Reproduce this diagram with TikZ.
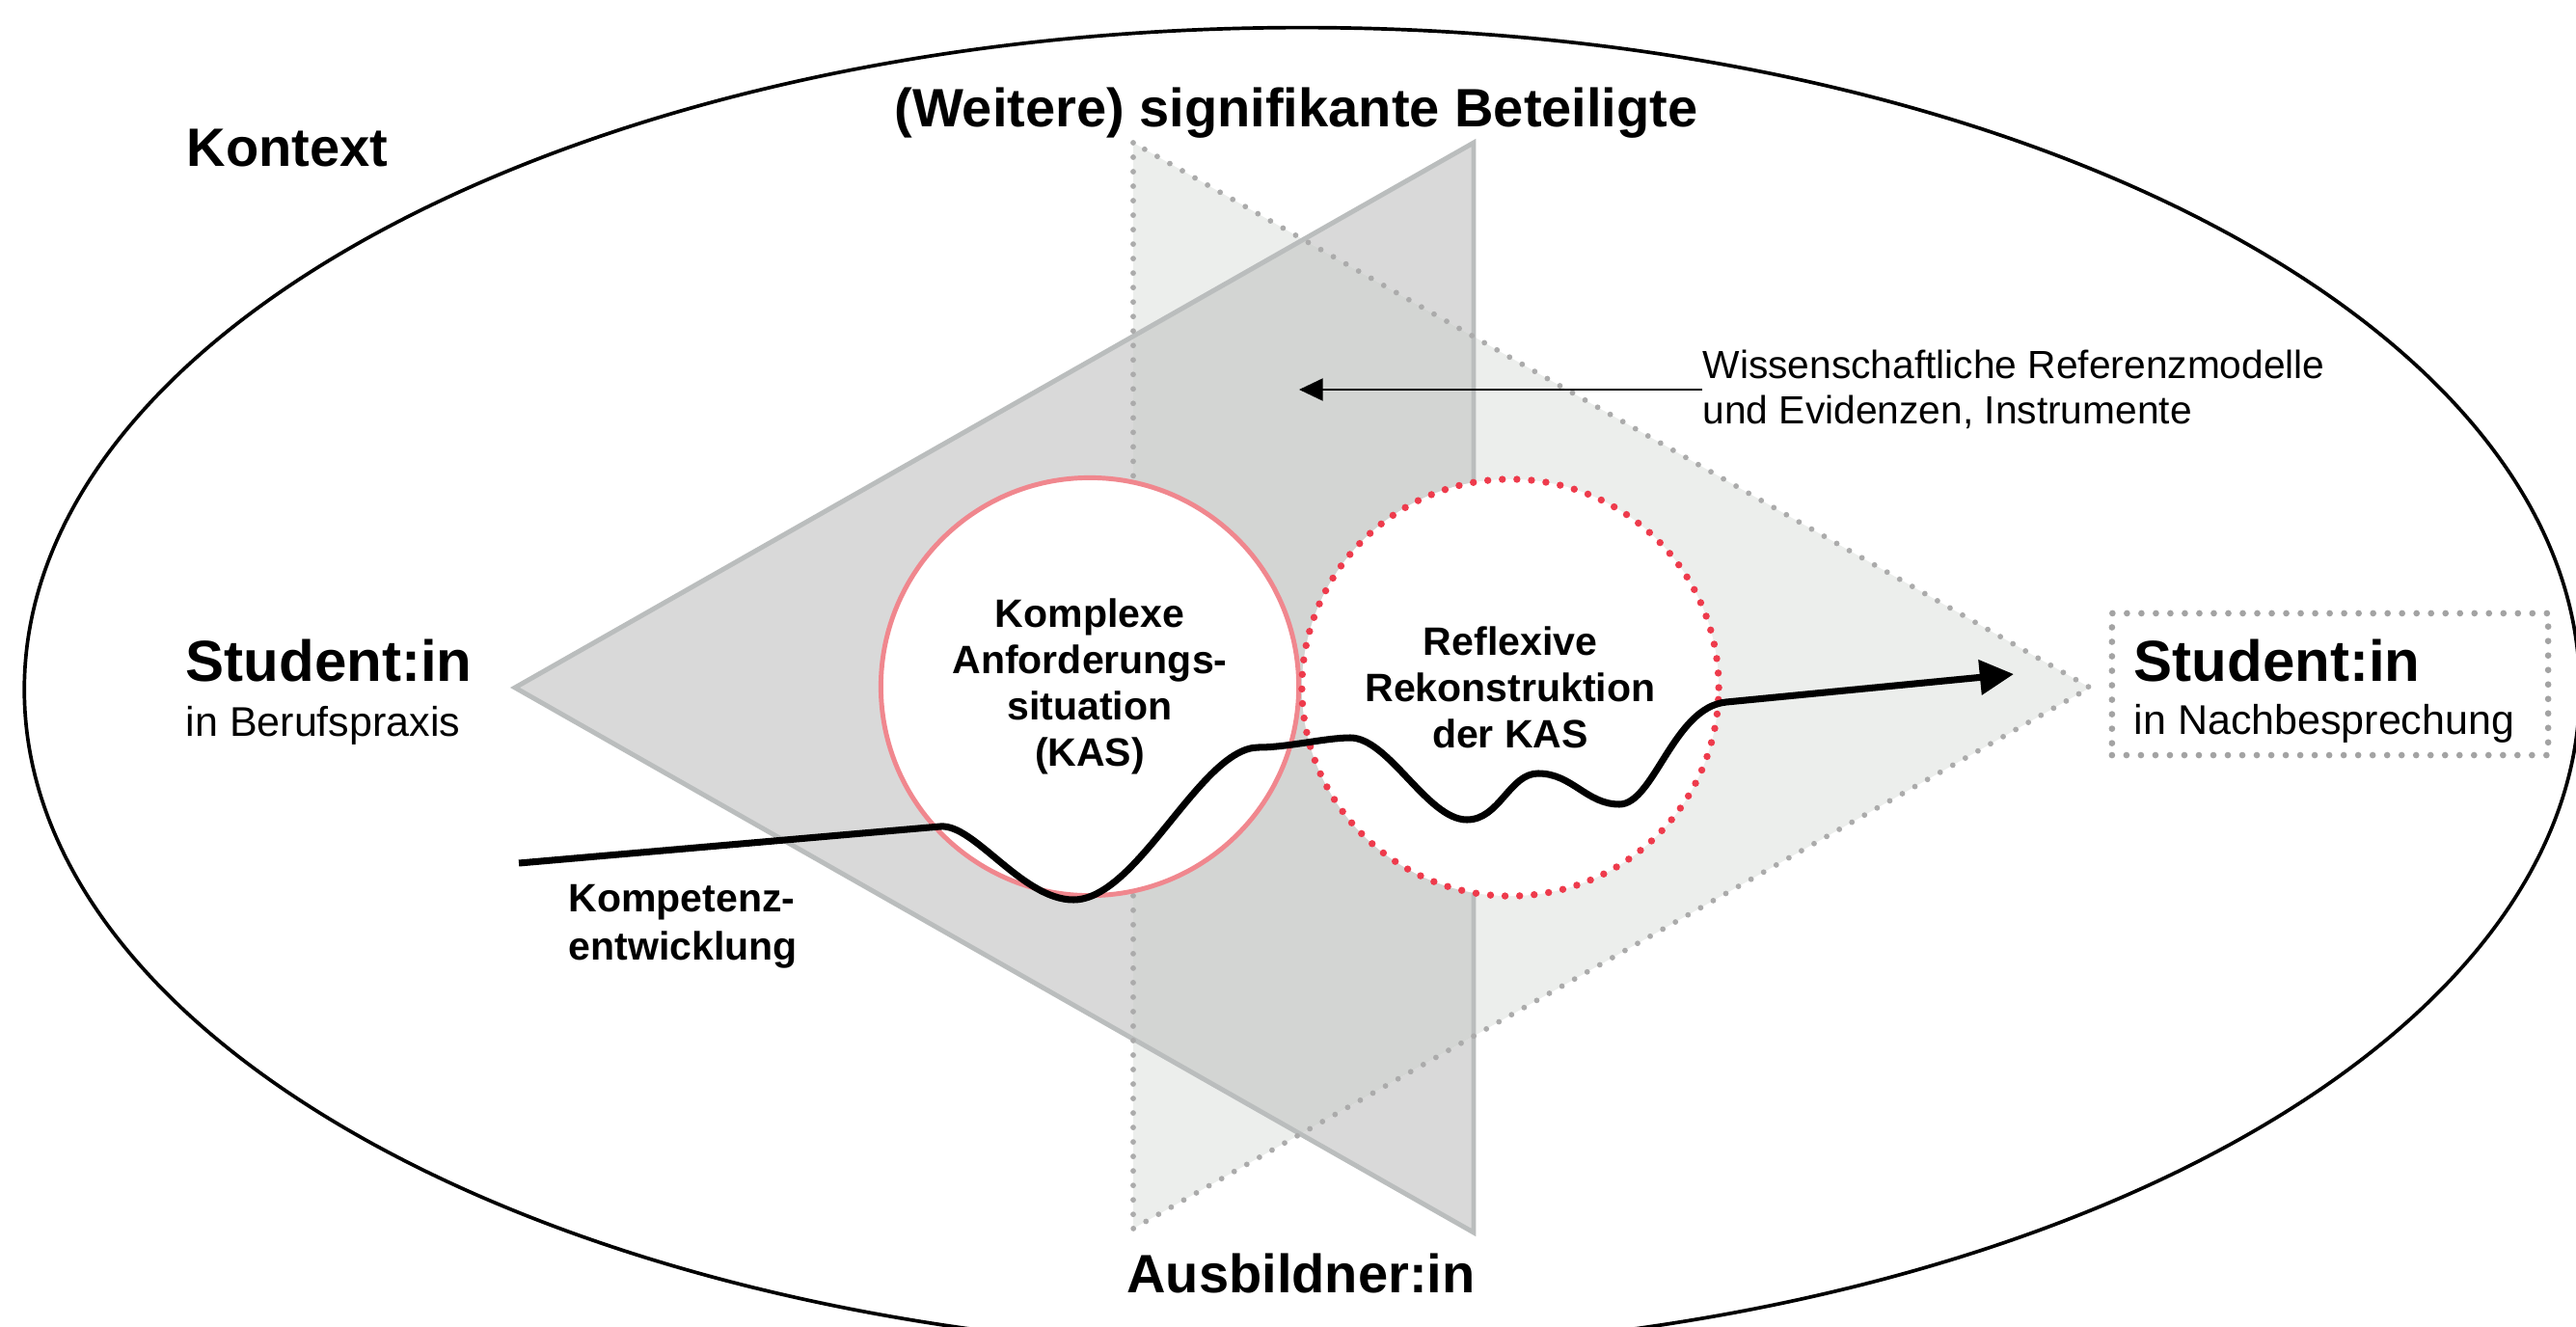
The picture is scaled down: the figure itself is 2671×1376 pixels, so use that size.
\documentclass[tikz,border=0pt]{standalone}
\usepackage{fontspec}
\setmainfont{Liberation Sans}
\usetikzlibrary{arrows.meta}
\definecolor{darkfill}{HTML}{D9D9D9}
\definecolor{lightfill}{HTML}{ECEEEC}
\definecolor{overfill}{HTML}{D3D5D3}
\definecolor{edgegray}{HTML}{BABDBD}
\definecolor{dotgray}{HTML}{ABABAB}
\definecolor{boxgray}{HTML}{A3A3A3}
\definecolor{kaspink}{HTML}{F0878E}
\definecolor{reddot}{HTML}{EE3B4C}
\tikzset{
  bigtxt/.style={font=\fontsize{15.93}{19}\selectfont\bfseries, inner sep=0pt},
  studtxt/.style={font=\fontsize{17.07}{20}\selectfont\bfseries, inner sep=0pt},
  subtxt/.style={font=\fontsize{12.23}{14}\selectfont, inner sep=0pt},
  labtxt/.style={font=\fontsize{11.67}{13.66}\selectfont\bfseries, inner sep=0pt},
  smalltxt/.style={font=\fontsize{11.58}{13.4}\selectfont, inner sep=0pt},
  kascirc/.style={circle, draw=kaspink, line width=1.4pt, fill=white,
    minimum size=4.33cm, inner sep=0pt, align=center,
    font=\fontsize{11.67}{13.66}\selectfont\bfseries},
  refcirc/.style={circle, draw=reddot, line width=2.1pt, line cap=round,
    dash pattern=on 0pt off 4.3pt, fill=white,
    minimum size=4.32cm, inner sep=0pt, align=center,
    font=\fontsize{11.67}{13.66}\selectfont\bfseries},
  dotbox/.style={rectangle, draw=boxgray, line width=1.9pt, line cap=round,
    dash pattern=on 0pt off 4.27pt, minimum width=4.52cm, minimum height=1.47cm, inner sep=0pt},
  solidtri/.style={draw=edgegray, line width=1.4pt, line join=miter},
  dottri/.style={draw=dotgray, line width=1.65pt, line cap=round, dash pattern=on 0pt off 4.27pt},
  devcurve/.style={line width=2pt, -{Triangle[length=10pt,width=10pt]}},
  thinarrow/.style={line width=0.7pt, -{Triangle[length=7pt,width=6.5pt]}}
}
\begin{document}
\begin{tikzpicture}[x=0.01cm,y=-0.01cm]
\useasboundingbox (0,0) rectangle (2671,1376);
\clip (0,0) rectangle (2671,1376);
\fill[white] (0,0) rectangle (2671,1376);
% context ellipse
\draw[line width=1.05pt] (1350,715) ellipse [x radius=13.24cm, y radius=6.86cm];
% triangles
\coordinate (A) at (534,713);
\coordinate (B) at (1528,148);
\coordinate (C) at (1528,1278);
\coordinate (D) at (1175,148);
\coordinate (E) at (1175,1274);
\coordinate (F) at (2167,713);
\fill[darkfill] (A) -- (B) -- (C) -- cycle;
\fill[lightfill] (D) -- (E) -- (F) -- cycle;
\begin{scope}
  \clip (A) -- (B) -- (C) -- cycle;
  \fill[overfill] (D) -- (E) -- (F) -- cycle;
\end{scope}
\draw[solidtri] (A) -- (B) -- (C) -- cycle;
\draw[dottri] (D) -- (E) -- (F) -- cycle;
% circles
\node[kascirc] (kas) at (1130,712) {Komplexe\\Anforderungs-\\situation\\(KAS)};
\node[refcirc] (ref) at (1566,713) {Reflexive\\Rekonstruktion\\der KAS};
% development curve
\coordinate (cs) at (538,895);
\coordinate (ce) at (2088,699);
\draw[devcurve] (cs) -- (975,857)
  .. controls (1010,854) and (1060,933) .. (1113,933)
  .. controls (1180,933) and (1245,775) .. (1305,775)
  .. controls (1335,775) and (1375,765) .. (1400,765)
  .. controls (1440,765) and (1480,850) .. (1521,850)
  .. controls (1555,850) and (1565,802) .. (1595,802)
  .. controls (1630,802) and (1645,834) .. (1679,834)
  .. controls (1715,834) and (1735,733.3) .. (1790,728)
  -- (ce);
% labels
\node[bigtxt, anchor=base west] (kontext) at (193,173) {Kontext};
\node[bigtxt, anchor=base] (weitere) at (1344,132) {(Weitere) signifikante Beteiligte};
\node[bigtxt, anchor=base] (ausb) at (1349,1340) {Ausbildner:in};
\node[studtxt, anchor=base west] (stl) at (192,706) {Student:in};
\node[subtxt, anchor=base west] (stlsub) at (192,763) {in Berufspraxis};
\node[dotbox] (box) at (2416,709.5) {};
\node[studtxt, anchor=base west] (str) at (2212,706) {Student:in};
\node[subtxt, anchor=base west] (strsub) at (2212,761) {in Nachbesprechung};
\node[labtxt, anchor=base west] (komp1) at (589,945) {Kompetenz-};
\node[labtxt, anchor=base west] (komp2) at (589,995) {entwicklung};
\node[smalltxt, anchor=west, align=left] (wiss) at (1765,404) {Wissenschaftliche Referenzmodelle\\und Evidenzen, Instrumente};
\coordinate (kastip) at (1347,404);
\draw[thinarrow] (wiss.west) -- (kastip);
\end{tikzpicture}
\end{document}
